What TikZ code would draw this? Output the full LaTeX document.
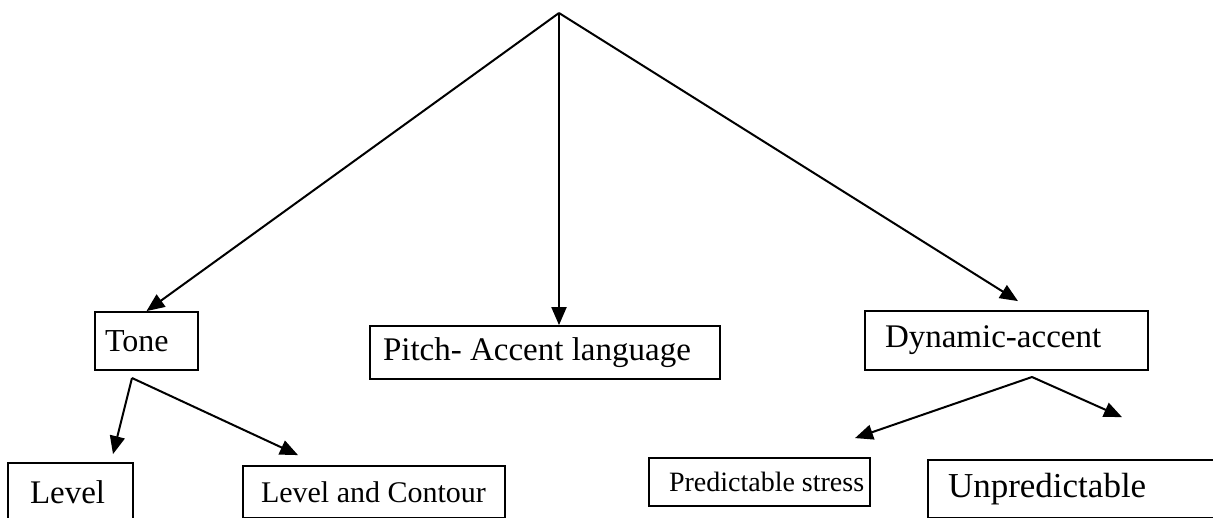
\documentclass[tikz,border=0pt]{standalone}
\usepackage{fontspec}
\setmainfont{Liberation Serif}
\usetikzlibrary{arrows.meta}
\begin{document}
\begin{tikzpicture}[x=1pt,y=-1pt,
  box/.style={draw, line width=1.8pt, inner ysep=0pt, font=\fontsize{32}{36}\selectfont},
  conn/.style={line width=2pt, -{Triangle[length=18pt,width=15pt]}}]
\useasboundingbox (0,0) rectangle (1213,517);
\clip (0,0) rectangle (1213,517);
\coordinate (apex) at (559,13);
\node[box, inner xsep=10pt, minimum height=58pt] (tone) at (146.5,341) {\makebox[83pt][l]{Tone}};
\node[box, inner xsep=13pt, minimum height=53pt, font=\fontsize{33}{37}\selectfont] (pitch) at (545,352.5) {\makebox[324pt][l]{\raisebox{-2pt}{Pitch- Accent language}}};
\node[box, inner xsep=20pt, minimum height=59pt, font=\fontsize{33}{37}\selectfont] (dyn) at (1006.5,340.5) {\makebox[243pt][l]{Dynamic-accent}};
\node[box, inner xsep=22pt, minimum height=58pt, font=\fontsize{33}{37}\selectfont] (level) at (70.5,492) {\makebox[81pt][l]{Level}};
\node[box, inner xsep=18pt, minimum height=52pt, font=\fontsize{30}{34}\selectfont] (lc) at (374,492) {\makebox[226pt][l]{Level and Contour}};
\node[box, inner xsep=20pt, minimum height=48pt, font=\fontsize{28}{32}\selectfont] (pred) at (759.5,482) {\makebox[181pt][l]{Predictable stress}};
\node[box, inner xsep=20pt, minimum height=58pt, font=\fontsize{35}{39}\selectfont] (unpred) at (1084,489) {\makebox[272pt][l]{Unpredictable}};
\coordinate (tb) at (132,378);
\coordinate (db) at (1032,377);
\draw[conn] (apex) -- (tone.north);
\draw[conn] (apex) -- (apex |- pitch.north);
\draw[conn] (apex) -- ([shift={(11.5,-9)}]dyn.north);
\draw[conn] (tb) -- ([shift={(42.5,-8)}]level.north);
\draw[conn] (tb) -- ([shift={(-76,-10)}]lc.north);
\draw[conn] (db) -- ([shift={(95.5,-19)}]pred.north);
\draw[conn] (db) -- ([shift={(38,-42)}]unpred.north);
\end{tikzpicture}
\end{document}
